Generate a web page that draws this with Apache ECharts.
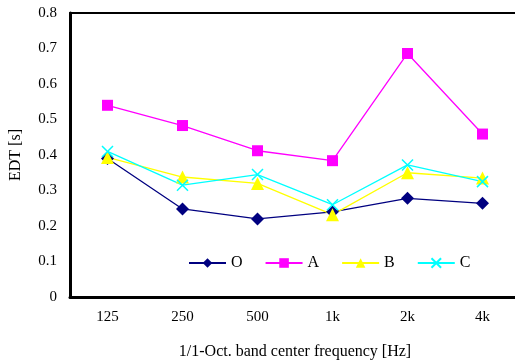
<!DOCTYPE html>
<html>
<head>
<meta charset="utf-8">
<script src="https://cdn.jsdelivr.net/npm/echarts@6/dist/echarts.min.js"></script>
<style>
  html, body { margin: 0; padding: 0; background: #fff; }
  #chart { width: 515px; height: 363px; }
</style>
</head>
<body>
<div id="chart"></div>
<script>
var freqs = ['125', '250', '500', '1k', '2k', '4k']
var edtO = [0.39, 0.248, 0.22, 0.24, 0.278, 0.264]
var edtA = [0.54, 0.483, 0.412, 0.384, 0.686, 0.459]
var edtB = [0.393, 0.338, 0.32, 0.232, 0.35, 0.335]
var edtC = [0.41, 0.315, 0.345, 0.26, 0.372, 0.325]

var serif = 'Liberation Serif'
var crossPath = 'path://M0,0L10,10M10,0L0,10'

function line(name, data, color, symbol, size, extra) {
  var s = {
    name: name,
    type: 'line',
    data: data,
    symbol: symbol,
    symbolSize: size,
    showAllSymbol: true,
    lineStyle: { color: color, width: 1.3 },
    itemStyle: { color: color }
  }
  if (extra) s.itemStyle = extra
  return s
}

var chart = echarts.init(document.getElementById('chart'))
chart.setOption({
  animation: false,
  grid: {
    left: 70, top: 13, height: 284, width: 450,
    outerBoundsMode: 'none'
  },
  legend: {
    left: 188, top: 255,
    padding: 0,
    itemGap: 22,
    itemWidth: 37, itemHeight: 12,
    textStyle: { fontFamily: serif, fontSize: 16, color: '#000' },
    data: ['O', 'A', 'B', 'C']
  },
  xAxis: [{
    type: 'category',
    data: freqs,
    boundaryGap: true,
    name: '1/1-Oct. band center frequency [Hz]',
    nameLocation: 'middle',
    nameGap: 47,
    nameTextStyle: { fontFamily: serif, fontSize: 16, color: '#000' },
    axisLine: { lineStyle: { color: '#000', width: 3 } },
    axisTick: { inside: true, length: 6, lineStyle: { color: '#000', width: 1.5 } },
    axisLabel: { fontFamily: serif, fontSize: 15, color: '#000', margin: 13 },
    splitLine: { show: false }
  }, {
    // top frame line only
    type: 'category',
    data: freqs,
    position: 'top',
    axisLine: { lineStyle: { color: '#000', width: 2 } },
    axisTick: { show: false },
    axisLabel: { show: false },
    splitLine: { show: false }
  }],
  yAxis: {
    type: 'value',
    min: 0, max: 0.8, interval: 0.1,
    name: 'EDT [s]',
    nameLocation: 'middle',
    nameGap: 46,
    nameTextStyle: { fontFamily: serif, fontSize: 16, color: '#000' },
    axisLine: { show: true, lineStyle: { color: '#000', width: 3 } },
    axisTick: { show: false },
    axisLabel: {
      fontFamily: serif, fontSize: 15, color: '#000', margin: 13,
      formatter: function (v) { return v === 0 ? '0' : v.toFixed(1) }
    },
    splitLine: { show: false }
  },
  series: [
    line('O', edtO, '#000080', 'diamond', 13),
    line('A', edtA, '#ff00ff', 'rect', 11),
    line('B', edtB, '#ffff00', 'triangle', 13),
    line('C', edtC, '#00ffff', crossPath, 11,
      { color: 'rgba(0,0,0,0)', borderColor: '#00ffff', borderWidth: 1.5 })
  ]
})
</script>
</body>
</html>
